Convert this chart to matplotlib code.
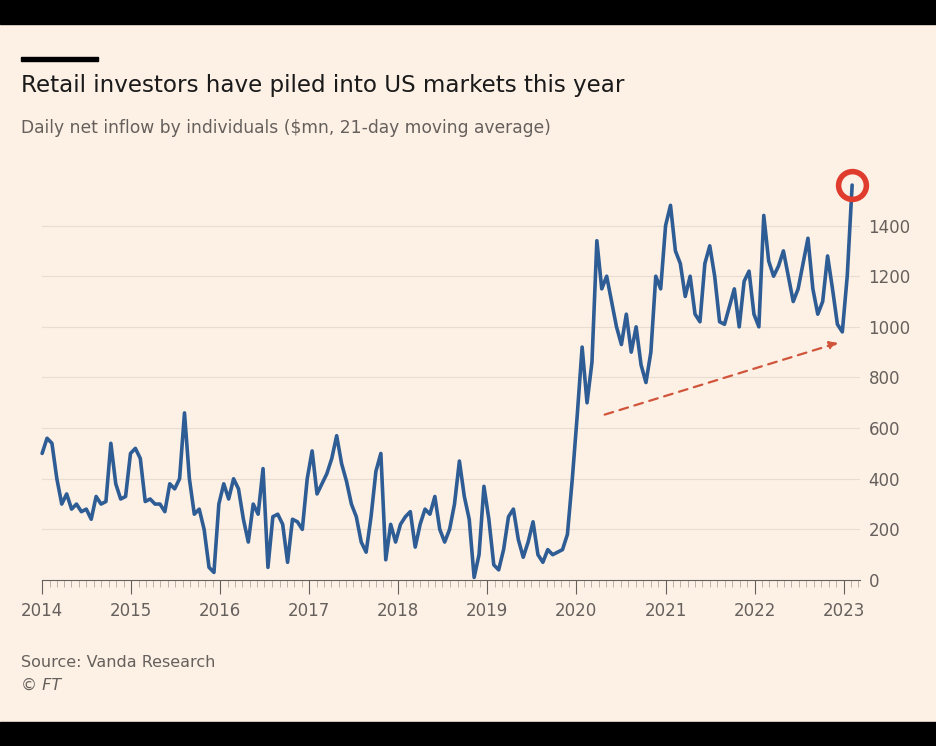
import numpy as np
import pandas as pd
import matplotlib.pyplot as plt
import matplotlib.dates as mdates
from matplotlib.patches import Rectangle

# daily net inflow, $mn, 21-day moving average (~weekly steps)
values = [500, 560, 540, 400, 300, 340, 280, 300, 270, 280, 240, 330, 300, 310, 540, 380,
          320, 330, 500, 520, 480, 310, 320, 300, 300, 270, 380, 360, 400, 660, 400, 260,
          280, 200, 50, 30, 300, 380, 320, 400, 360, 240, 150, 300, 260, 440, 50, 250,
          260, 220, 70, 240, 230, 200, 400, 510, 340, 380, 420, 480, 570, 460, 390, 300,
          250, 150, 110, 250, 430, 500, 80, 220, 150, 220, 250, 270, 130, 220, 280, 260,
          330, 200, 150, 200, 300, 470, 330, 240, 10, 100, 370, 240, 60, 40, 120, 250,
          280, 160, 90, 150, 230, 100, 70, 120, 100, 110, 120, 180, 400, 650, 920, 700,
          860, 1340, 1150, 1200, 1100, 1000, 930, 1050, 900, 1000, 850, 780, 900, 1200, 1150, 1400,
          1480, 1300, 1250, 1120, 1200, 1050, 1020, 1250, 1320, 1200, 1020, 1010, 1080, 1150, 1000, 1180,
          1220, 1050, 1000, 1440, 1260, 1200, 1240, 1300, 1200, 1100, 1150, 1250, 1350, 1150, 1050, 1100,
          1280, 1150, 1010, 980, 1200, 1560]
dates = pd.date_range("2014-01-01", "2023-02-05", periods=len(values))
yticks = [0, 200, 400, 600, 800, 1000, 1200, 1400]

bg = "#fdf1e6"
fig = plt.figure(figsize=(9.36, 7.46), dpi=100, facecolor=bg)
fig.patches.append(Rectangle((0, 0.968), 1, 0.032, transform=fig.transFigure, color="black"))
fig.patches.append(Rectangle((0, 0), 1, 0.032, transform=fig.transFigure, color="black"))
fig.patches.append(Rectangle((0.022, 0.918), 0.083, 0.006, transform=fig.transFigure, color="black"))

fig.text(0.022, 0.885, "Retail investors have piled into US markets this year", fontsize=16.6,
         color="#1a1a1a", va="center")
fig.text(0.022, 0.828, "Daily net inflow by individuals ($mn, 21-day moving average)", fontsize=12.3,
         color="#66605c", va="center")
fig.text(0.022, 0.112, "Source: Vanda Research", fontsize=11.5, color="#66605c", va="center")
fig.text(0.022, 0.082, "© FT", fontsize=11.5, color="#66605c", va="center", style="italic")

ax = fig.add_axes([0.045, 0.2225, 0.874, 0.543], facecolor=bg)
ax.set_ylim(0, 1600)
ax.set_xlim(pd.Timestamp("2014-01-01"), pd.Timestamp("2023-03-10"))
for v in yticks[1:]:
    ax.axhline(v, color="#e9dcd1", lw=0.8, zorder=0)
ax.plot(dates, values, color="#2e5c94", lw=2.6, clip_on=False, zorder=3, solid_capstyle="round")

for s in ["top", "left", "right"]:
    ax.spines[s].set_visible(False)
ax.spines["bottom"].set_color("#66605c")
ax.yaxis.tick_right()
ax.set_yticks(yticks)
ax.tick_params(axis="y", length=0, pad=6, labelsize=12, labelcolor="#66605c")
ax.xaxis.set_major_locator(mdates.YearLocator())
ax.xaxis.set_major_formatter(mdates.DateFormatter("%Y"))
ax.xaxis.set_minor_locator(mdates.MonthLocator())
ax.tick_params(axis="x", which="major", length=10, color="#66605c", labelsize=12,
               labelcolor="#66605c", pad=6)
ax.tick_params(axis="x", which="minor", length=5, color="#b0a89f")

# highlight and trend arrow
ax.plot(dates[-1], values[-1], "o", ms=20, mfc="none", mec="#e03c2e", mew=4, clip_on=False, zorder=4)
ax.annotate("", xy=(pd.Timestamp("2022-12-20"), 940), xytext=(pd.Timestamp("2020-04-15"), 650),
            arrowprops=dict(arrowstyle="-|>", color="#d0553b", lw=1.6, ls=(0, (4, 3)),
                            mutation_scale=12))

fig.savefig("out.png", dpi=100, facecolor=bg)
